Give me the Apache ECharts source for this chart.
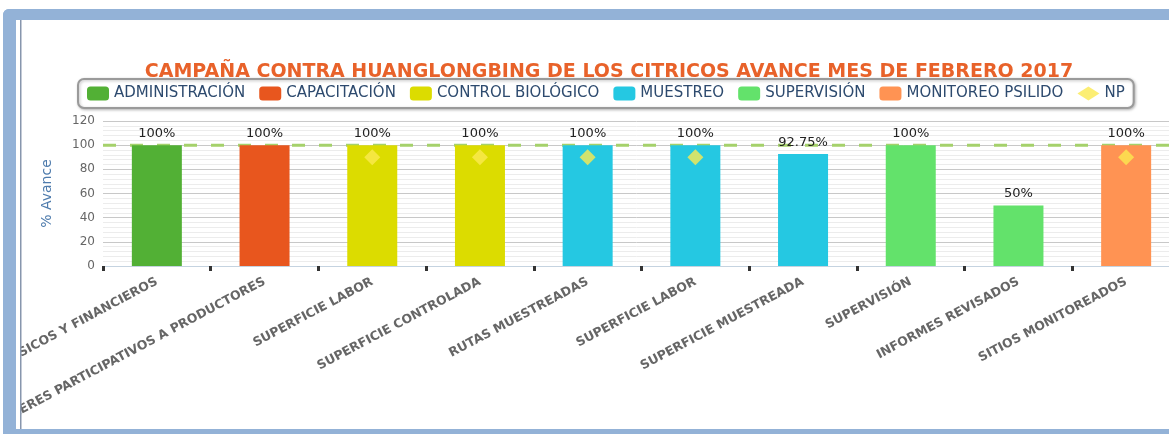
<!DOCTYPE html>
<html><head><meta charset="utf-8">
<script src="https://cdn.jsdelivr.net/npm/echarts@6/dist/echarts.min.js"></script>
<style>html,body{margin:0;padding:0;background:#fff}#c{width:1169px;height:434px}</style>
</head><body><div id="c"></div>
<script>
const titleText = 'CAMPAÑA CONTRA HUANGLONGBING DE LOS CITRICOS AVANCE MES DE FEBRERO 2017';
const categories = ['RECURSOS HUMANOS, MATERIALES, FÍSICOS Y FINANCIEROS','TALLERES PARTICIPATIVOS A PRODUCTORES','SUPERFICIE LABOR','SUPERFICIE CONTROLADA','RUTAS MUESTREADAS','SUPERFICIE LABOR','SUPERFICIE MUESTREADA','SUPERVISIÓN','INFORMES REVISADOS','SITIOS MONITOREADOS'];
const values = [100,100,100,100,100,100,92.75,100,50,100];
const categoryGroup = ['ADMINISTRACIÓN','CAPACITACIÓN','CONTROL BIOLÓGICO','CONTROL BIOLÓGICO','MUESTREO','MUESTREO','MUESTREO','SUPERVISIÓN','SUPERVISIÓN','MONITOREO PSILIDO'];
const groupNames = ['ADMINISTRACIÓN','CAPACITACIÓN','CONTROL BIOLÓGICO','MUESTREO','SUPERVISIÓN','MONITOREO PSILIDO'];
const groupColors = ['#52b035','#e8561e','#dcdc00','#25c8e2','#63e26b','#ff9353'];
const npValues = ['-','-',90,90,90,90,'-','-','-',90];
const goal = 100;
const yTicks = [0,20,40,60,80,100,120];

const FONT = 'DejaVu Sans';
const barSeries = groupNames.map((g, gi) => ({
  name: g, type: 'bar', stack: 'all', barWidth: 50, z: 3,
  itemStyle: { color: groupColors[gi] },
  data: values.map((v, i) => categoryGroup[i] === g ? v : '-'),
  label: { show: true, position: 'top', distance: 5, color: '#222', fontSize: 13, fontFamily: FONT,
    formatter: p => p.value + '%' }
}));

const chart = echarts.init(document.getElementById('c'));
chart.setOption({
  backgroundColor: '#fff',
  animation: false,
  title: { text: titleText, left: 604, top: 58, textAlign: 'center',
    textStyle: { color: '#e8622a', fontSize: 19, fontWeight: 'bold', fontFamily: FONT } },
  legend: {
    data: groupNames.concat(['NP']), left: 78, top: 79, padding: [7, 9, 7, 9], itemGap: 14,
    itemWidth: 22, itemHeight: 14, borderColor: '#9a9a9a', borderWidth: 2, borderRadius: 6,
    shadowBlur: 3, shadowColor: 'rgba(0,0,0,0.25)', shadowOffsetX: 1, shadowOffsetY: 1,
    backgroundColor: '#fff',
    textStyle: { color: '#2d4a6e', fontSize: 15, fontFamily: FONT }
  },
  grid: { left: 103, top: 121, width: 1077, height: 145, outerBoundsMode: 'none', containLabel: false },
  xAxis: [{
    type: 'category', data: categories,
    axisLine: { lineStyle: { color: '#c5d3e0', width: 1 } },
    axisTick: { show: true, length: 5, lineStyle: { color: '#333', width: 3 } },
    axisLabel: { rotate: 28, fontWeight: 'bold', fontSize: 12.5, color: '#666', fontFamily: FONT, margin: 15, interval: 0 }
  }, {
    type: 'value', min: 0, max: 1, show: false
  }],
  yAxis: {
    type: 'value', min: yTicks[0], max: yTicks[yTicks.length - 1], interval: 20,
    name: '% Avance', nameLocation: 'middle', nameGap: 49,
    nameTextStyle: { color: '#4f7cad', fontSize: 14, fontFamily: FONT },
    axisLine: { show: false }, axisTick: { show: false },
    axisLabel: { color: '#666', fontSize: 12, fontFamily: FONT, margin: 8 },
    splitLine: { lineStyle: { color: '#c8c8c8' } },
    minorTick: { show: false, splitNumber: 5 },
    minorSplitLine: { show: true, lineStyle: { color: '#ececec' } }
  },
  series: barSeries.concat([
    { name: 'goal', type: 'line', xAxisIndex: 1, data: [[0, goal], [1, goal]], z: 1, silent: true,
      symbol: 'none', lineStyle: { color: '#a5d16b', width: 3, type: [13, 14] } },
    { name: 'NP', type: 'scatter', symbol: 'diamond', symbolSize: [16, 16], z: 5,
      itemStyle: { color: '#fbea50' }, data: npValues }
  ]),
  graphic: [
    { type: 'rect', z: 100, shape: { x: 0, y: 0, width: 3, height: 434 }, style: { fill: '#fff' } },
    { type: 'rect', z: 100, shape: { x: 3, y: 9, width: 1170, height: 11, r: [6, 0, 0, 0] }, style: { fill: '#93b2d7' } },
    { type: 'rect', z: 100, shape: { x: 3, y: 9, width: 13, height: 430, r: [6, 0, 0, 0] }, style: { fill: '#93b2d7' } },
    { type: 'rect', z: 100, shape: { x: 16, y: 20, width: 4, height: 410 }, style: { fill: '#fff' } },
    { type: 'rect', z: 100, shape: { x: 20, y: 20, width: 1.5, height: 410 }, style: { fill: '#8796ad' } },
    { type: 'rect', z: 100, shape: { x: 3, y: 429, width: 1170, height: 6 }, style: { fill: '#93b2d7' } }
  ]
});
</script></body></html>
